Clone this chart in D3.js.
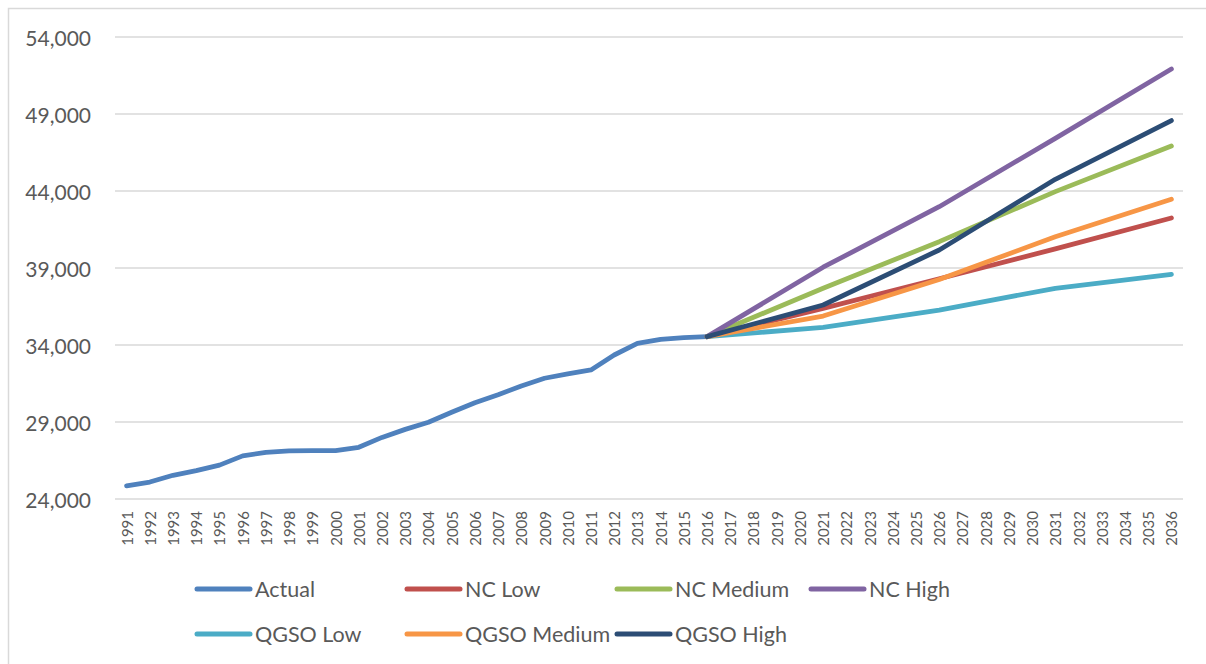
<!DOCTYPE html>
<html>
<head>
<meta charset="utf-8">
<script src="https://cdn.jsdelivr.net/npm/d3@7"></script>
<style>
  html, body { margin: 0; padding: 0; background: #fff; }
  svg { display: block; }
  text { font-family: Lato, "Open Sans", sans-serif; fill: #595959; }
</style>
</head>
<body>
<svg id="chart" width="1206" height="664"></svg>
<script>
// Population: actual 1991-2016 and projections to 2036
const years = [1991, 1992, 1993, 1994, 1995, 1996, 1997, 1998, 1999, 2000,
  2001, 2002, 2003, 2004, 2005, 2006, 2007, 2008, 2009, 2010,
  2011, 2012, 2013, 2014, 2015, 2016, 2017, 2018, 2019, 2020,
  2021, 2022, 2023, 2024, 2025, 2026, 2027, 2028, 2029, 2030,
  2031, 2032, 2033, 2034, 2035, 2036];

const yTicks = [24000, 29000, 34000, 39000, 44000, 49000, 54000];

const actualYears = [1991, 1992, 1993, 1994, 1995, 1996, 1997, 1998, 1999, 2000,
  2001, 2002, 2003, 2004, 2005, 2006, 2007, 2008, 2009, 2010,
  2011, 2012, 2013, 2014, 2015, 2016];
const actual = [24860, 25100, 25540, 25840, 26200, 26800, 27030, 27120, 27140, 27140,
  27360, 28000, 28520, 28980, 29630, 30250, 30770, 31340, 31840, 32120,
  32380, 33350, 34110, 34370, 34480, 34540];

// Projections are published at five-year steps from the 2016 base
const projYears = [2016, 2021, 2026, 2031, 2036];
const ncLow      = [34540, 36380, 38300, 40240, 42250];
const ncMedium   = [34540, 37680, 40710, 43960, 46920];
const ncHigh     = [34540, 39050, 42980, 47420, 51920];
const qgsoLow    = [34540, 35150, 36270, 37680, 38590];
const qgsoMedium = [34540, 35880, 38250, 41030, 43460];
const qgsoHigh   = [34540, 36600, 40170, 44760, 48570];

const seriesNames  = ["Actual", "NC Low", "NC Medium", "NC High", "QGSO Low", "QGSO Medium", "QGSO High"];
const seriesColors = ["#4f81bd", "#c0504d", "#9bbb59", "#8064a2", "#4bacc6", "#f79646", "#2c4d75"];

const series = [
  { years: actualYears, values: actual },
  { years: projYears, values: ncLow },
  { years: projYears, values: ncMedium },
  { years: projYears, values: ncHigh },
  { years: projYears, values: qgsoLow },
  { years: projYears, values: qgsoMedium },
  { years: projYears, values: qgsoHigh }
].map((s, i) => ({
  name: seriesNames[i],
  color: seriesColors[i],
  points: s.years.map((yr, j) => ({ year: yr, value: s.values[j] }))
}));

const svg = d3.select("#chart");

// outer chart frame
svg.append("rect")
  .attr("x", 8.5).attr("y", 8.5)
  .attr("width", 1300).attr("height", 800)
  .attr("fill", "#fff")
  .attr("stroke", "#d9d9d9")
  .attr("stroke-width", 1.5);

const plot = { left: 115, right: 1183, top: 37, bottom: 499 };

const x = d3.scalePoint()
  .domain(years)
  .range([plot.left, plot.right])
  .padding(0.5);

const y = d3.scaleLinear()
  .domain([24000, 54000])
  .range([plot.bottom, plot.top]);

// horizontal gridlines
svg.append("g")
  .selectAll("line")
  .data(yTicks)
  .join("line")
  .attr("x1", plot.left).attr("x2", plot.right)
  .attr("y1", d => y(d)).attr("y2", d => y(d))
  .attr("stroke", "#d9d9d9")
  .attr("stroke-width", 1.3);

// y axis labels
const fmt = d3.format(",");
svg.append("g")
  .selectAll("text")
  .data(yTicks)
  .join("text")
  .attr("x", 91)
  .attr("y", d => y(d))
  .attr("text-anchor", "end")
  .attr("dominant-baseline", "central")
  .style("font-size", "21px")
  .text(d => fmt(d));

// x axis labels, rotated
svg.append("g")
  .selectAll("text")
  .data(years)
  .join("text")
  .attr("transform", d => `translate(${x(d)},${plot.bottom + 12}) rotate(-90)`)
  .attr("text-anchor", "end")
  .attr("dominant-baseline", "central")
  .style("font-size", "15px")
  .text(d => d);

// series lines
const line = d3.line()
  .x(d => x(d.year))
  .y(d => y(d.value));

svg.append("g")
  .selectAll("path")
  .data(series)
  .join("path")
  .attr("d", d => line(d.points))
  .attr("fill", "none")
  .attr("stroke", d => d.color)
  .attr("stroke-width", 4.8)
  .attr("stroke-linecap", "round")
  .attr("stroke-linejoin", "round");

// legend, two rows
const legendSlots = [
  { col: 197, row: 589 }, { col: 407, row: 589 }, { col: 617, row: 589 }, { col: 811, row: 589 },
  { col: 197, row: 634 }, { col: 407, row: 634 }, { col: 617, row: 634 }
];

const legend = svg.append("g")
  .selectAll("g")
  .data(series)
  .join("g")
  .attr("transform", (d, i) => `translate(${legendSlots[i].col},${legendSlots[i].row})`);

legend.append("line")
  .attr("x1", 0).attr("x2", 53)
  .attr("y1", 0).attr("y2", 0)
  .attr("stroke", d => d.color)
  .attr("stroke-width", 5)
  .attr("stroke-linecap", "round");

legend.append("text")
  .attr("x", 58)
  .attr("y", 0)
  .attr("dominant-baseline", "central")
  .style("font-size", "21.5px")
  .text(d => d.name);
</script>
</body>
</html>
